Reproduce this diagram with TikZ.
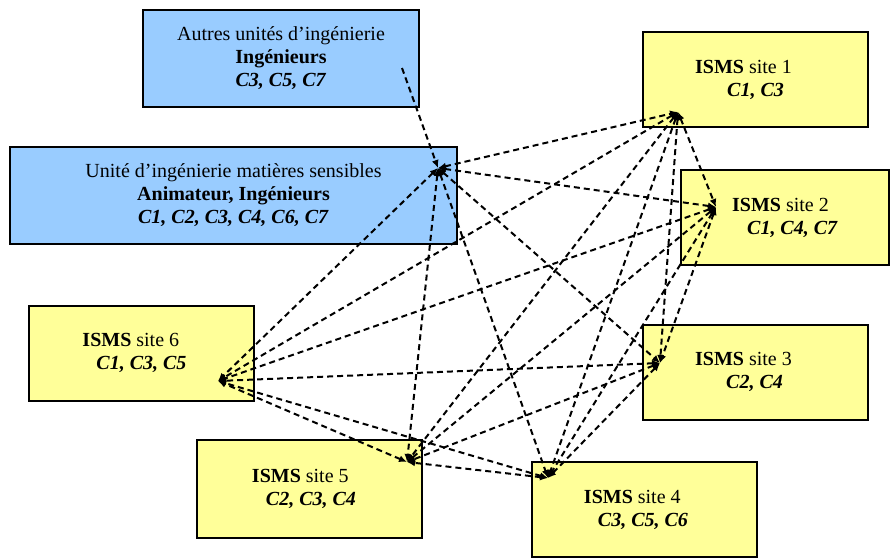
\documentclass[tikz,border=0pt]{standalone}
\usepackage{fontspec}
\setmainfont{Liberation Serif}
\usetikzlibrary{arrows.meta}
\definecolor{boxblue}{HTML}{99CCFF}
\definecolor{boxyellow}{HTML}{FFFF99}
\tikzset{
every node/.style={font=\fontsize{10}{11.5}\selectfont},
hubtip/.tip={Latex[length=4pt,width=3.5pt]},
unitbox/.style= {rectangle,draw,line width=1pt,fill=boxblue,align=center},
sitebox/.style= {rectangle,draw,line width=1pt,fill=boxyellow,align=left,minimum width=112.5pt,minimum height=47.5pt},
link/.style= {line width=1pt,dash pattern=on 3pt off 2pt,hubtip-hubtip}
}

\begin{document}
\begin{tikzpicture}[x=0.5pt,y=-0.5pt]
\useasboundingbox (0,0) rectangle (890,559);

\node[unitbox,minimum width=138pt,minimum height=48.5pt] (autres) at (281,58.5) {Autres unités d’ingénierie\\\textbf{Ingénieurs}\\\textbf{\textit{C3, C5, C7}}};
\node[unitbox,minimum width=223.5pt,minimum height=48.5pt] (unite) at (233.5,195.5) {Unité d’ingénierie matières sensibles\\\textbf{Animateur, Ingénieurs}\\\textbf{\textit{C1, C2, C3, C4, C6, C7}}};

\node[sitebox] (site1) at (755.5,79.5) {\textbf{ISMS} site 1\hspace*{1.2em}\\\hspace*{1.6em}\textbf{\textit{C1, C3}}};
\node[sitebox,minimum width=104pt] (site2) at (785,217.5) {\textbf{ISMS} site 2\\\hspace*{0.75em}\textbf{\textit{C1, C4, C7}}};
\node[sitebox] (site3) at (755.5,372) {\textbf{ISMS} site 3\hspace*{1.2em}\\\hspace*{1.55em}\textbf{\textit{C2, C4}}};
\node[sitebox] (site4) at (644,509.5) {\textbf{ISMS} site 4\\\hspace*{0.7em}\textbf{\textit{C3, C5, C6}}\hspace*{0.8em}};
\node[sitebox,minimum height=49pt] (site5) at (309,489) {\textbf{ISMS} site 5\\\hspace*{0.7em}\textbf{\textit{C2, C3, C4}}\hspace*{0.5em}};
\node[sitebox] (site6) at (141.5,353) {\textbf{ISMS} site 6\\\hspace*{0.7em}\textbf{\textit{C1, C3, C5}}\hspace*{0.7em}};

% points where the links meet
\coordinate (ha) at (402,68);
\coordinate (h0) at (438,168);
\coordinate (h1) at (678,112);
\coordinate (h2) at (716,207);
\coordinate (h3) at (660,363);
\coordinate (h4) at (548,478);
\coordinate (h5) at (407,462);
\coordinate (h6) at (218,381);

\draw[link,-hubtip] (ha) -- (h0);

\foreach \i/\k in {0/1,1/2,2/3,3/4,4/5,5/6}
  \foreach \j in {\k,...,6}
    \draw[link] (h\i) -- (h\j);
\end{tikzpicture}
\end{document}
